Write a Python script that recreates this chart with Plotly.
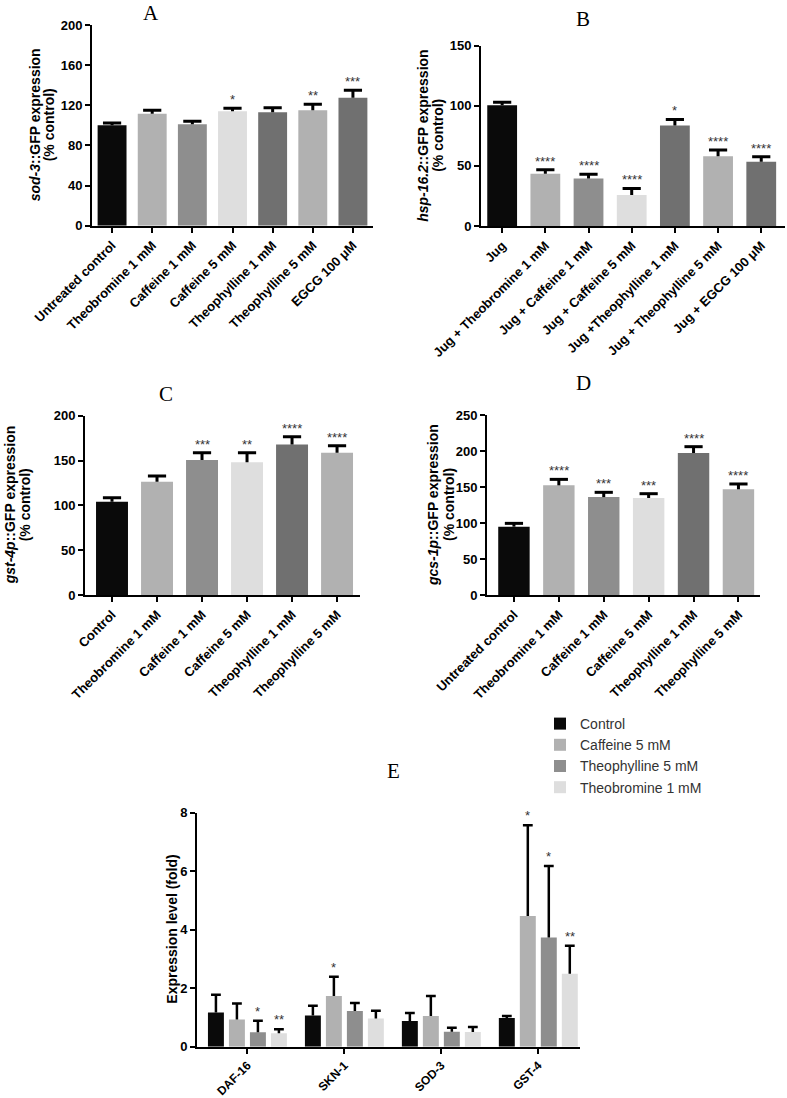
import plotly.graph_objects as go

W, H = 787, 1098

# ---------------- data ----------------
a_cats = ["Untreated control", "Theobromine 1 mM", "Caffeine 1 mM", "Caffeine 5 mM",
          "Theophylline 1 mM", "Theophylline 5 mM", "EGCG 100 μM"]
a_vals = [100, 111.6, 101, 114, 113, 115, 127.6]
a_err = [2.3, 3.4, 3.0, 3.0, 4.6, 6.0, 7.4]
a_sig = ["", "", "", "*", "", "**", "***"]

b_cats = ["Jug", "Jug + Theobromine 1 mM", "Jug + Caffeine 1 mM", "Jug + Caffeine 5 mM",
          "Jug +Theophylline 1 mM", "Jug + Theophylline 5 mM", "Jug + EGCG 100 μM"]
b_vals = [100.4, 43.5, 39.6, 25.8, 83.7, 58, 53.5]
b_err = [2.6, 3.4, 3.4, 5.5, 5.0, 5.2, 4.2]
b_sig = ["", "****", "****", "****", "*", "****", "****"]

c_cats = ["Control", "Theobromine 1 mM", "Caffeine 1 mM", "Caffeine 5 mM",
          "Theophylline 1 mM", "Theophylline 5 mM"]
c_vals = [104, 126.4, 150.6, 148, 168, 158.7]
c_err = [4.5, 6.3, 8.1, 10.7, 8.6, 7.8]
c_sig = ["", "", "***", "**", "****", "****"]

d_cats = ["Untreated control", "Theobromine 1 mM", "Caffeine 1 mM", "Caffeine 5 mM",
          "Theophylline 1 mM", "Theophylline 5 mM"]
d_vals = [94.9, 152.3, 136, 134.7, 197.2, 146.8]
d_err = [4.6, 8.3, 6.6, 6.0, 8.8, 7.4]
d_sig = ["", "****", "***", "***", "****", "****"]

e_genes = ["DAF-16", "SKN-1", "SOD-3", "GST-4"]
e_series = ["Control", "Caffeine 5 mM", "Theophylline 5 mM", "Theobromine 1 mM"]
e_control = [1.17, 1.07, 0.88, 0.98]
e_control_err = [0.61, 0.33, 0.27, 0.07]
e_caffeine = [0.93, 1.73, 1.05, 4.47]
e_caffeine_err = [0.55, 0.66, 0.68, 3.10]
e_theophylline = [0.49, 1.22, 0.51, 3.73]
e_theophylline_err = [0.40, 0.27, 0.14, 2.45]
e_theobromine = [0.46, 0.96, 0.50, 2.49]
e_theobromine_err = [0.14, 0.27, 0.17, 0.96]
e_control_sig = ["", "", "", ""]
e_caffeine_sig = ["", "*", "", "*"]
e_theophylline_sig = ["*", "", "", "*"]
e_theobromine_sig = ["**", "", "", "**"]

# ---------------- styles ----------------
BLACK = "#0a0a0a"
LIGHT = "#b1b1b1"
MID = "#8e8e8e"
VLIGHT = "#dedede"
DARK = "#707070"
a_cols = [BLACK, LIGHT, MID, VLIGHT, DARK, LIGHT, DARK]
b_cols = [BLACK, LIGHT, MID, VLIGHT, DARK, LIGHT, DARK]
c_cols = [BLACK, LIGHT, MID, VLIGHT, DARK, LIGHT]
d_cols = [BLACK, LIGHT, MID, VLIGHT, DARK, LIGHT]
e_cols = [BLACK, LIGHT, MID, VLIGHT]

SANS = "Liberation Sans, Arial, sans-serif"
SERIF = "Liberation Serif, Times New Roman, serif"
STAR_FONT = dict(family=SANS, size=13, color="#333333")
TITLE_FONT = dict(family=SANS, size=14, color="black", weight="bold")


def px_x(x):
    return x / W


def px_y(y):
    return 1 - y / H


fig = go.Figure()
annotations = []


def axis_style(label_size=13, **kw):
    d = dict(showline=True, linecolor="black", linewidth=2, ticks="outside",
             ticklen=5, tickwidth=2, tickcolor="black", showgrid=False,
             zeroline=False, automargin=False,
             tickfont=dict(family=SANS, size=label_size, color="black", weight="bold"))
    d.update(kw)
    return d


def cap_trace(x, tops, xa, ya, size, thick):
    return go.Scatter(x=x, y=tops, mode="markers", xaxis=xa, yaxis=ya,
                      marker=dict(symbol="line-ew", size=size, color="black",
                                  line=dict(width=thick, color="black")),
                      showlegend=False, hoverinfo="skip")


panels = [
    ("", a_cats, a_vals, a_err, a_sig, a_cols, (92, 373), (225.7, 25), 200, 40,
     [-0.5, 6.5], ("<i>sod-3</i>::GFP expression", "(% control)"), (35, 49), 0.72),
    ("2", b_cats, b_vals, b_err, b_sig, b_cols, (481, 785), (226, 45.7), 150, 50,
     [-0.49, 6.55], ("<i>hsp-16.2</i>::GFP expression", "(% control)"), (423, 438), 0.69),
    ("3", c_cats, c_vals, c_err, c_sig, c_cols, (85, 360), (595, 415.7), 200, 50,
     [-0.6, 5.51], ("<i>gst-4p</i>::GFP expression", "(% control)"), (10, 25), 0.71),
    ("4", d_cats, d_vals, d_err, d_sig, d_cols, (487, 760), (595, 415), 250, 50,
     [-0.6, 5.48], ("<i>gcs-1p</i>::GFP expression", "(% control)"), (433, 449), 0.70),
]

layout_axes = {}
for pid, cats, vals, err, sig, cols, xd, yd, ymax, dtick, xr, ytitle, tx, bw in panels:
    xa = "x" + pid
    ya = "y" + pid
    tops = [v + e for v, e in zip(vals, err)]
    fig.add_trace(go.Bar(
        x=cats, y=vals, width=bw, marker=dict(color=cols, line=dict(width=0)),
        error_y=dict(type="data", array=err, arrayminus=[0] * len(err), symmetric=False,
                     color="black", thickness=3, width=0),
        xaxis=xa, yaxis=ya, showlegend=False))
    fig.add_trace(cap_trace(cats, tops, xa, ya, 13, 3))
    layout_axes["xaxis" + pid] = axis_style(
        domain=[px_x(xd[0]), px_x(xd[1])], anchor=ya, tickangle=-45,
        range=xr, type="category")
    layout_axes["yaxis" + pid] = axis_style(
        domain=[px_y(yd[0]), px_y(yd[1])], anchor=xa, range=[0, ymax], dtick=dtick,
        tick0=0)
    for c, t, s in zip(cats, tops, sig):
        if s:
            annotations.append(dict(x=c, y=t, xref=xa, yref=ya, text=s,
                                    showarrow=False, yanchor="bottom", yshift=-1,
                                    font=STAR_FONT))
    ymid = (px_y(yd[0]) + px_y(yd[1])) / 2
    for line, lx in zip(ytitle, tx):
        annotations.append(dict(x=px_x(lx), y=ymid, xref="paper", yref="paper", text=line,
                                textangle=-90, showarrow=False, xanchor="center",
                                yanchor="middle", font=TITLE_FONT))

# ---------------- panel E ----------------
e_vals_all = [e_control, e_caffeine, e_theophylline, e_theobromine]
e_err_all = [e_control_err, e_caffeine_err, e_theophylline_err, e_theobromine_err]
e_sig_all = [e_control_sig, e_caffeine_sig, e_theophylline_sig, e_theobromine_sig]
n_series = len(e_series)
group_frac, bar_frac = 0.866, 0.76
slot = group_frac / n_series
for si, (name, vals, err, col, sig) in enumerate(
        zip(e_series, e_vals_all, e_err_all, e_cols, e_sig_all)):
    xs = [gi + (si - (n_series - 1) / 2) * slot for gi in range(len(e_genes))]
    tops = [v + e for v, e in zip(vals, err)]
    fig.add_trace(go.Bar(
        x=xs, y=vals, width=slot * bar_frac, name=name,
        marker=dict(color=col, line=dict(width=0)),
        error_y=dict(type="data", array=err, arrayminus=[0] * len(err), symmetric=False,
                     color="black", thickness=2.5, width=0),
        xaxis="x5", yaxis="y5", showlegend=True))
    fig.add_trace(cap_trace(xs, tops, "x5", "y5", 7, 2.5))
    for x, t, s in zip(xs, tops, sig):
        if s:
            annotations.append(dict(x=x, y=t, xref="x5", yref="y5", text=s,
                                    showarrow=False, yanchor="bottom", yshift=0,
                                    font=STAR_FONT))

layout_axes["xaxis5"] = axis_style(label_size=12, domain=[px_x(197), px_x(580)],
                                   anchor="y5", tickangle=-45, range=[-0.52, 3.43],
                                   tickvals=list(range(len(e_genes))), ticktext=e_genes)
layout_axes["yaxis5"] = axis_style(domain=[px_y(1046.7), px_y(812.7)], anchor="x5",
                                   range=[0, 8], dtick=2, tick0=0)

annotations.append(dict(x=px_x(172), y=(px_y(1046.7) + px_y(812.7)) / 2,
                        xref="paper", yref="paper", text="Expression level (fold)",
                        textangle=-90, showarrow=False, xanchor="center", yanchor="middle",
                        font=TITLE_FONT))

# panel letters
for letter, lx, ly in [("A", 151, 13), ("B", 583, 19), ("C", 166, 394), ("D", 583, 383),
                       ("E", 393, 771)]:
    annotations.append(dict(x=px_x(lx), y=px_y(ly), xref="paper", yref="paper", text=letter,
                            showarrow=False, xanchor="center", yanchor="middle",
                            font=dict(family=SERIF, size=21, color="black")))

fig.update_layout(
    width=W, height=H, margin=dict(l=0, r=0, t=0, b=0),
    paper_bgcolor="white", plot_bgcolor="white",
    barmode="overlay",
    annotations=annotations,
    legend=dict(x=px_x(540), y=px_y(708), xanchor="left", yanchor="top",
                bgcolor="rgba(0,0,0,0)", font=dict(family=SANS, size=14, color="#333333"),
                tracegroupgap=0),
    **layout_axes,
)

fig.write_html("out.html", config={"displayModeBar": False},
               post_script="document.body.style.margin='0px';"
                           "document.body.style.overflow='hidden';")
